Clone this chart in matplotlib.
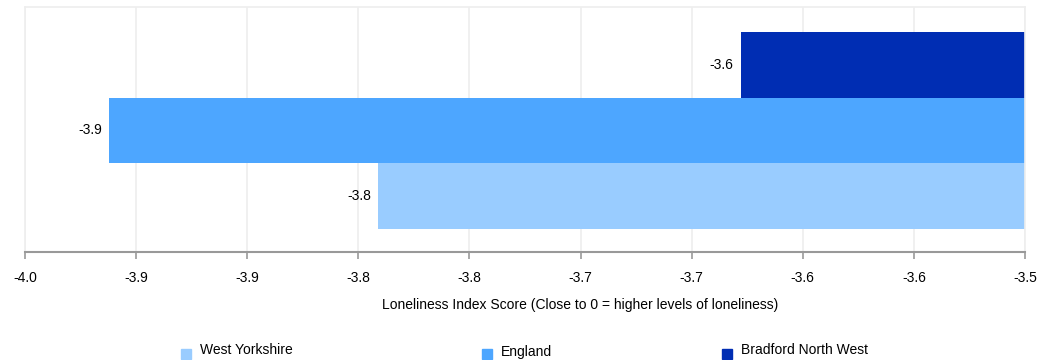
import matplotlib
matplotlib.use("Agg")
import numpy as np
import matplotlib.pyplot as plt
from matplotlib.patches import Rectangle

# data
series = ["West Yorkshire", "England", "Bradford North West"]
scores = [-3.801, -3.922, -3.638]
colors = ["#99ccff", "#4da6ff", "#002db3"]
x_min, x_max = -3.96, -3.51
x_title = "Loneliness Index Score (Close to 0 = higher levels of loneliness)"

plt.rcParams["font.family"] = ["Liberation Sans", "DejaVu Sans"]
plt.rcParams["font.size"] = 10

fig = plt.figure(figsize=(10.48, 3.6), dpi=100)
ax = fig.add_axes([25 / 1048, 1 - 252 / 360, 1000 / 1048, 245 / 360])

# bars grow from 0, which sits off to the right of the visible range
ypos = np.arange(len(series))
bars = ax.barh(ypos, scores, height=1.0, color=colors, zorder=2)
for y, v in zip(ypos, scores):
    ax.annotate(f"{v:.1f}", xy=(v, y), xytext=(-5, 0), textcoords="offset points",
                ha="right", va="center", fontsize=10, color="#000000")

ax.set_xlim(x_min, x_max)
ax.set_ylim(-0.85, 2.88)
ticks = np.linspace(x_min, x_max, 10)
ax.set_xticks(ticks)
ax.set_xticklabels([f"{t:.1f}" for t in ticks])
ax.set_yticks([])
ax.grid(axis="x", color="#eeeeee", linewidth=1.2, zorder=0)
ax.tick_params(axis="x", length=5, width=1.2, color="#999999", pad=9, labelsize=10)
for side in ["top", "left", "right"]:
    ax.spines[side].set_color("#eeeeee")
    ax.spines[side].set_linewidth(1.2)
ax.spines["bottom"].set_color("#999999")
ax.spines["bottom"].set_linewidth(1.5)

fig.text(580 / 1048, 1 - 305 / 360, x_title, ha="center", va="center", fontsize=10)

# legend, placed by hand to match the uneven spacing
leg_x = [181, 482, 722]
leg_y = [354, 354, 354]
txt_y = [350, 352, 350]
for name, c, lx, ly, ty in zip(series, colors, leg_x, leg_y, txt_y):
    fig.add_artist(Rectangle((lx / 1048, 1 - (ly + 5) / 360), 10 / 1048, 10 / 360,
                             transform=fig.transFigure, color=c))
    fig.text((lx + 19) / 1048, 1 - ty / 360, name, ha="left", va="center", fontsize=10)

fig.savefig("out.png", dpi=100)
